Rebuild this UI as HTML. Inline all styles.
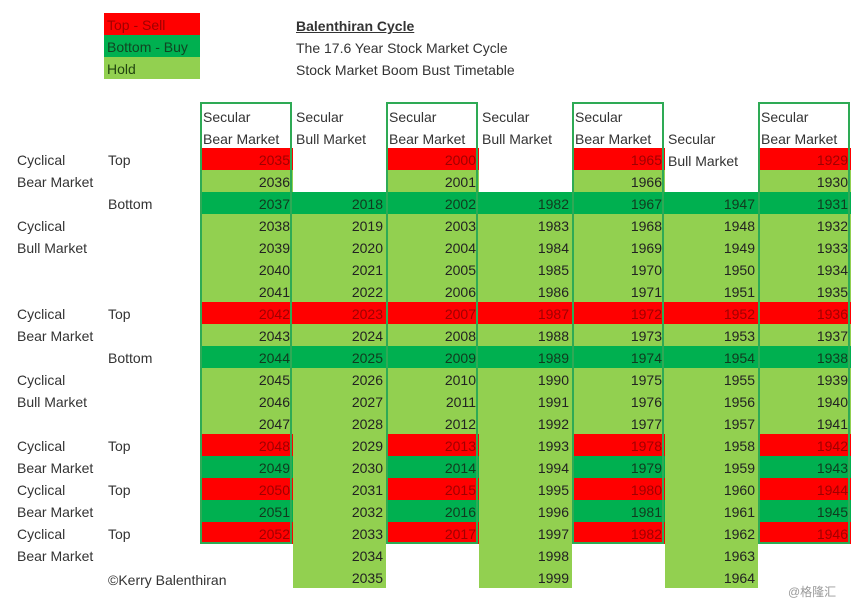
<!DOCTYPE html>
<html><head><meta charset="utf-8">
<style>
body{margin:0;background:#fff;}
#c{position:relative;width:864px;height:604px;overflow:hidden;font-family:"Liberation Sans","Noto Sans CJK SC",sans-serif;font-size:14px;color:#333;}
.a{position:absolute;white-space:nowrap;}
.cell{position:absolute;height:22px;line-height:24px;text-align:right;box-sizing:border-box;padding-right:3px;color:#222;}
</style></head><body>
<div id="c">
<div class="a" style="left:104px;top:13px;width:96px;height:22px;line-height:24px;background:#ff0000;color:#a00000;padding-left:3px;box-sizing:border-box">Top - Sell</div>
<div class="a" style="left:104px;top:35px;width:96px;height:22px;line-height:24px;background:#00b050;color:#114422;padding-left:3px;box-sizing:border-box">Bottom - Buy</div>
<div class="a" style="left:104px;top:57px;width:96px;height:22px;line-height:24px;background:#92d050;color:#224411;padding-left:3px;box-sizing:border-box">Hold</div>
<div class="a" style="left:296px;top:18px;font-weight:bold;text-decoration:underline">Balenthiran Cycle</div>
<div class="a" style="left:296px;top:40px">The 17.6 Year Stock Market Cycle</div>
<div class="a" style="left:296px;top:62px">Stock Market Boom Bust Timetable</div>
<div class="a" style="left:108px;top:572px">©Kerry Balenthiran</div>
<div class="a" style="left:788px;top:583px;color:#999;font-size:12px">@格隆汇</div>
</div>
<script>
const startYears=[2035,2018,2000,1982,1965,1947,1929];
const colTypes=["bear","bull","bear","bull","bear","bull","bear"];
const bearStates=["T","H","B","H","H","H","H","T","H","B","H","H","H","T","B","T","B","T"];
const bullStates=["B","H","H","H","H","T","H","B","H","H","H","H","H","H","H","H","H","H"];
const leftLabels=[[0,"Cyclical",17],[0,"Top",108],[1,"Bear Market",17],[2,"Bottom",108],[3,"Cyclical",17],[4,"Bull Market",17],
[7,"Cyclical",17],[7,"Top",108],[8,"Bear Market",17],[9,"Bottom",108],[10,"Cyclical",17],[11,"Bull Market",17],
[13,"Cyclical",17],[13,"Top",108],[14,"Bear Market",17],[15,"Cyclical",17],[15,"Top",108],[16,"Bear Market",17],
[17,"Cyclical",17],[17,"Top",108],[18,"Bear Market",17]];
const c=document.getElementById('c');
const X0=200,CW=93,Y0=148,RH=22;
const colX=i=>X0+i*CW, rowY=r=>Y0+r*RH;
const bg={T:"#ff0000",B:"#00b050",H:"#92d050"};
const fg={T:"#a00000",B:"#113a1e",H:"#222"};
leftLabels.forEach(l=>{
 const d=document.createElement('div');d.className='a';
 
 
 d.style.left=l[2]+'px';d.style.top=(rowY(l[0])+4)+'px';d.textContent=l[1];c.appendChild(d);
});
colTypes.forEach((t,i)=>{
 const bear=t==="bear";
 const off=bear?0:2;
 const states=bear?bearStates:bullStates;
 states.forEach((s,k)=>{
  const d=document.createElement('div');d.className='cell';
  
  
  d.style.left=colX(i)+'px';d.style.top=rowY(k+off)+'px';d.style.width=CW+'px';
  d.style.background=bg[s];d.style.color=fg[s];d.textContent=startYears[i]+k;c.appendChild(d);
 });
 const h=document.createElement('div');h.className='a';
 
 
 h.style.left=(colX(i)+3)+'px';h.style.lineHeight='22px';
 const hy=(i===5)?rowY(-1):rowY(-2);
 h.style.top=(hy+2)+'px';
 h.innerHTML='Secular<br>'+(bear?'Bear Market':'Bull Market');c.appendChild(h);
 if(bear){
  const b=document.createElement('div');b.className='a';
  
  
  b.style.left=colX(i)+'px';b.style.top='102px';b.style.width=(CW-1)+'px';
  b.style.height=(rowY(states.length)-102)+'px';b.style.border='2px solid #2eaa55';b.style.boxSizing='border-box';
  c.appendChild(b);
 }
});
</script>
</body></html>
